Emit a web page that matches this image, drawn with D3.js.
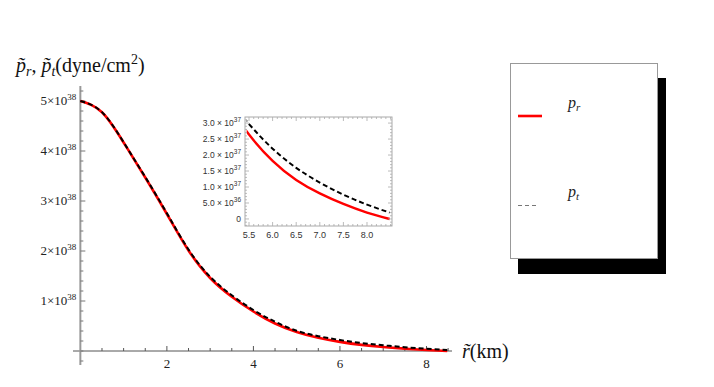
<!DOCTYPE html>
<html>
<head>
<meta charset="utf-8">
<script src="https://cdn.jsdelivr.net/npm/d3@7"></script>
<style>
  body { margin: 0; background: #fff; }
  svg { display: block; }
</style>
</head>
<body>
<svg id="chart" width="714" height="387"></svg>
<script>
// radius in km
var rVals = [0, 0.5, 1, 1.5, 2, 2.5, 3, 3.5, 4, 4.5, 5, 5.5, 6, 6.5, 7, 7.5, 8, 8.48];
// radial pressure, units of 1e38 dyne/cm^2
var prVals = [5.00, 4.775, 4.17, 3.47, 2.74, 2.01, 1.46, 1.085, 0.79, 0.55, 0.38, 0.264, 0.182, 0.122, 0.080, 0.047, 0.020, 0.0];
// tangential pressure, units of 1e38 dyne/cm^2
var ptVals = [5.00, 4.777, 4.175, 3.48, 2.755, 2.03, 1.485, 1.115, 0.82, 0.585, 0.405, 0.297, 0.220, 0.160, 0.114, 0.076, 0.045, 0.020];

var xMajor = [2, 4, 6, 8];
var yMajor = [1, 2, 3, 4, 5];
var yMajorLabels = ["1", "2", "3", "4", "5"];

var insetXTicks = [5.5, 6.0, 6.5, 7.0, 7.5, 8.0];
var insetYTicks = [0, 0.5, 1.0, 1.5, 2.0, 2.5, 3.0];
var insetYLabels = ["0", "5.0 \u00d7 10|36", "1.0 \u00d7 10|37", "1.5 \u00d7 10|37", "2.0 \u00d7 10|37", "2.5 \u00d7 10|37", "3.0 \u00d7 10|37"];

var legendNames = ["p|r", "p|t"];

var svg = d3.select("#chart");
var serif = "'Liberation Serif', 'Times New Roman', serif";
var sans = "'Liberation Sans', Arial, sans-serif";

var pts = rVals.map(function (r, i) { return {r: r, pr: prVals[i], pt: ptVals[i]}; });

// main plot scales
var x = d3.scaleLinear().domain([-0.17, 8.59]).range([73, 452]);
var y = d3.scaleLinear().domain([-0.28, 5.3]).range([365, 86]);

var g = svg.append("g");

// x axis line
g.append("line")
    .attr("x1", x(-0.17)).attr("x2", x(8.59))
    .attr("y1", y(0)).attr("y2", y(0))
    .attr("stroke", "#555").attr("stroke-width", 1);

// y axis line
g.append("line")
    .attr("x1", x(0)).attr("x2", x(0))
    .attr("y1", y(5.3)).attr("y2", y(-0.28))
    .attr("stroke", "#999").attr("stroke-width", 2);

// x ticks
d3.range(0.5, 8.6, 0.5).forEach(function (v) {
    var major = xMajor.indexOf(v) >= 0;
    g.append("line")
        .attr("x1", x(v)).attr("x2", x(v))
        .attr("y1", y(0)).attr("y2", y(0) - (major ? 5 : 3))
        .attr("stroke", "#555").attr("stroke-width", 1);
});
xMajor.forEach(function (v) {
    g.append("text")
        .attr("x", x(v)).attr("y", y(0) + 17)
        .attr("text-anchor", "middle")
        .attr("font-family", serif).attr("font-size", 13)
        .attr("fill", "#222")
        .text(v);
});

// y ticks
d3.range(-0.2, 5.25, 0.2).forEach(function (v) {
    v = Math.round(v * 10) / 10;
    var major = Math.abs(v - Math.round(v)) < 1e-6 && v > 0;
    g.append("line")
        .attr("x1", x(0)).attr("x2", x(0) + (major ? 5 : 3))
        .attr("y1", y(v)).attr("y2", y(v))
        .attr("stroke", "#777").attr("stroke-width", 1);
});
yMajor.forEach(function (v, i) {
    var t = g.append("text")
        .attr("x", x(0) - 4).attr("y", y(v) + 4)
        .attr("text-anchor", "end")
        .attr("font-family", serif).attr("font-size", 13)
        .attr("fill", "#222");
    t.append("tspan").text(yMajorLabels[i] + "\u00d710");
    t.append("tspan").attr("dy", -5).attr("font-size", 9).text("38");
});

// curves
var linePr = d3.line().x(function (d) { return x(d.r); }).y(function (d) { return y(d.pr); }).curve(d3.curveNatural);
var linePt = d3.line().x(function (d) { return x(d.r); }).y(function (d) { return y(d.pt); }).curve(d3.curveNatural);

g.append("path").datum(pts).attr("d", linePr)
    .attr("fill", "none").attr("stroke", "#f00").attr("stroke-width", 2.6);
g.append("path").datum(pts).attr("d", linePt)
    .attr("fill", "none").attr("stroke", "#000").attr("stroke-width", 2)
    .attr("stroke-dasharray", "5,3");

// axis labels
var yl = svg.append("text")
    .attr("x", 16).attr("y", 72)
    .attr("font-family", serif).attr("font-size", 20).attr("fill", "#111");
yl.append("tspan").attr("font-style", "italic").text("p\u0303");
yl.append("tspan").attr("dy", 4).attr("font-size", 14).attr("font-style", "italic").text("r");
yl.append("tspan").attr("dy", -4).text(", ");
yl.append("tspan").attr("font-style", "italic").text("p\u0303");
yl.append("tspan").attr("dy", 4).attr("font-size", 14).attr("font-style", "italic").text("t");
yl.append("tspan").attr("dy", -4).text("(dyne/cm");
yl.append("tspan").attr("dy", -8).attr("font-size", 14).text("2");
yl.append("tspan").attr("dy", 8).text(")");

var xl = svg.append("text")
    .attr("x", 462).attr("y", 358)
    .attr("font-family", serif).attr("font-size", 20).attr("fill", "#111");
xl.append("tspan").attr("font-style", "italic").text("r\u0303");
xl.append("tspan").text("(km)");

// inset
var ix = d3.scaleLinear().domain([5.415, 8.53]).range([245, 392]);
var iy = d3.scaleLinear().domain([-0.22, 3.19]).range([226, 117]);
var ig = svg.append("g");

ig.append("rect")
    .attr("x", 245).attr("y", 117).attr("width", 147).attr("height", 109)
    .attr("fill", "#fff");

ig.append("defs").append("clipPath").attr("id", "insetClip")
    .append("rect")
    .attr("x", ix(5.45)).attr("y", 117)
    .attr("width", ix(8.53) - ix(5.45)).attr("height", 109);

var linePrIn = d3.line().x(function (d) { return ix(d.r); }).y(function (d) { return iy(d.pr * 10); }).curve(d3.curveNatural);
var linePtIn = d3.line().x(function (d) { return ix(d.r); }).y(function (d) { return iy(d.pt * 10); }).curve(d3.curveNatural);

var tail = pts.filter(function (d) { return d.r >= 4.5; });
ig.append("path").datum(tail).attr("d", linePrIn)
    .attr("clip-path", "url(#insetClip)")
    .attr("fill", "none").attr("stroke", "#f00").attr("stroke-width", 2.4);
ig.append("path").datum(tail).attr("d", linePtIn)
    .attr("clip-path", "url(#insetClip)")
    .attr("fill", "none").attr("stroke", "#000").attr("stroke-width", 2)
    .attr("stroke-dasharray", "5,3");

// inset ticks (all four sides)
d3.range(5.5, 8.51, 0.1).forEach(function (v) {
    v = Math.round(v * 10) / 10;
    var major = insetXTicks.some(function (m) { return Math.abs(m - v) < 1e-6; });
    var len = major ? 4 : 2;
    ig.append("line").attr("x1", ix(v)).attr("x2", ix(v)).attr("y1", 226).attr("y2", 226 - len)
        .attr("stroke", "#aaa").attr("stroke-width", 0.8);
    ig.append("line").attr("x1", ix(v)).attr("x2", ix(v)).attr("y1", 117).attr("y2", 117 + len)
        .attr("stroke", "#aaa").attr("stroke-width", 0.8);
});
d3.range(-0.2, 3.15, 0.1).forEach(function (v) {
    v = Math.round(v * 10) / 10;
    var major = Math.abs(v * 2 - Math.round(v * 2)) < 1e-6;
    var len = major ? 4 : 2;
    ig.append("line").attr("x1", 245).attr("x2", 245 + len).attr("y1", iy(v)).attr("y2", iy(v))
        .attr("stroke", "#aaa").attr("stroke-width", 0.8);
    ig.append("line").attr("x1", 392).attr("x2", 392 - len).attr("y1", iy(v)).attr("y2", iy(v))
        .attr("stroke", "#aaa").attr("stroke-width", 0.8);
});

ig.append("rect")
    .attr("x", 245).attr("y", 117).attr("width", 147).attr("height", 109)
    .attr("fill", "none").attr("stroke", "#aaa").attr("stroke-width", 1);

insetXTicks.forEach(function (v) {
    ig.append("text")
        .attr("x", ix(v)).attr("y", 238)
        .attr("text-anchor", "middle")
        .attr("font-family", sans).attr("font-size", 9).attr("fill", "#333")
        .text(v.toFixed(1));
});
insetYTicks.forEach(function (v, i) {
    var parts = insetYLabels[i].split("|");
    var t = ig.append("text")
        .attr("x", 241).attr("y", iy(v) + 3)
        .attr("text-anchor", "end")
        .attr("font-family", sans).attr("font-size", 8.5).attr("fill", "#333");
    t.append("tspan").text(parts[0]);
    if (parts[1]) t.append("tspan").attr("dy", -4).attr("font-size", 6.5).text(parts[1]);
});

// legend
var lg = svg.append("g");
lg.append("rect").attr("x", 518).attr("y", 78).attr("width", 148).attr("height", 196).attr("fill", "#000");
lg.append("rect").attr("x", 510.5).attr("y", 63.5).attr("width", 147).attr("height", 195)
    .attr("fill", "#fff").attr("stroke", "#999").attr("stroke-width", 1);

lg.append("line").attr("x1", 518).attr("x2", 542).attr("y1", 116).attr("y2", 116)
    .attr("stroke", "#f00").attr("stroke-width", 2.6);
lg.append("line").attr("x1", 518).attr("x2", 539).attr("y1", 205.5).attr("y2", 205.5)
    .attr("stroke", "#777").attr("stroke-width", 1).attr("stroke-dasharray", "4,3");

legendNames.forEach(function (n, i) {
    var parts = n.split("|");
    var t = lg.append("text")
        .attr("x", 568).attr("y", i === 0 ? 108 : 197)
        .attr("font-family", serif).attr("font-size", 16).attr("font-style", "italic").attr("fill", "#222");
    t.append("tspan").text(parts[0]);
    t.append("tspan").attr("dy", 3).attr("font-size", 11).text(parts[1]);
});
</script>
</body>
</html>
